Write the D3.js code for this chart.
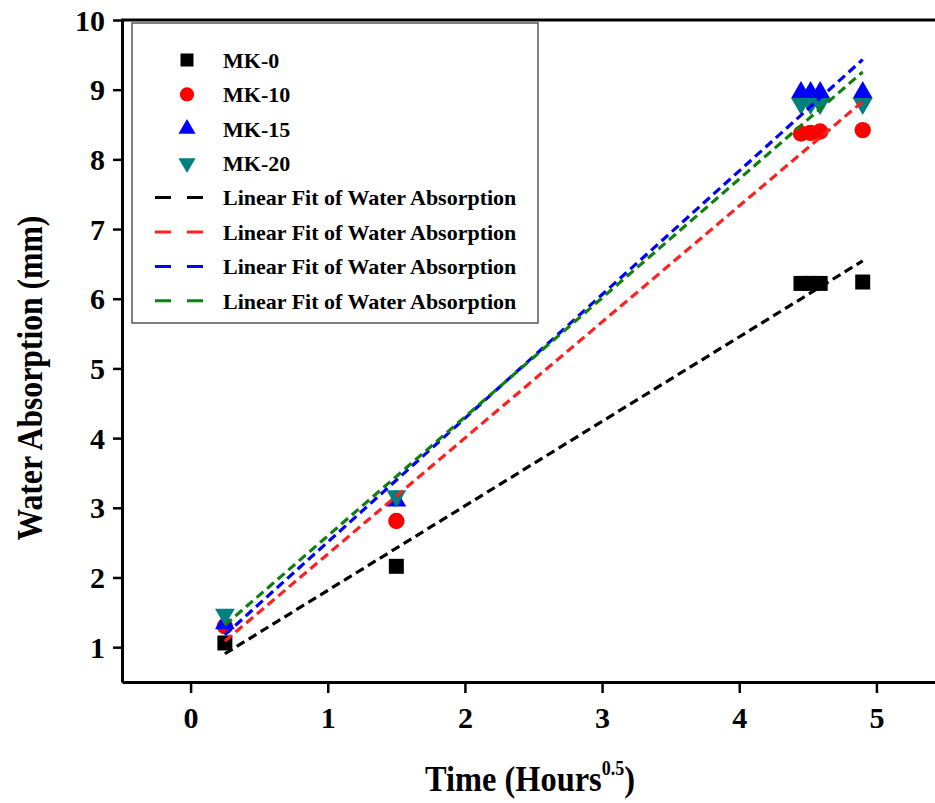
<!DOCTYPE html>
<html>
<head>
<meta charset="utf-8">
<script src="https://cdn.jsdelivr.net/npm/d3@7"></script>
<style>
  body { margin: 0; background: #fff; }
  text { font-family: "Liberation Serif", "Times New Roman", serif; font-weight: bold; }
</style>
</head>
<body>
<div class="chart"></div>
<script>
// data
const timeX = [0.25, 1.5, 4.45, 4.52, 4.59, 4.9];
const mk0  = [1.06, 2.16, 6.22, 6.22, 6.22, 6.24];
const mk10 = [1.30, 2.81, 8.37, 8.38, 8.40, 8.42];
const mk15 = [1.34, 3.10, 8.96, 8.96, 8.96, 8.96];
const mk20 = [1.47, 3.17, 8.80, 8.80, 8.80, 8.80];
const seriesNames = ["MK-0", "MK-10", "MK-15", "MK-20"];
const fitName = "Linear Fit of Water Absorption";
const xTicks = [0, 1, 2, 3, 4, 5];
const yTicks = [1, 2, 3, 4, 5, 6, 7, 8, 9, 10];

const W = 935, H = 803;
const svg = d3.select(".chart").append("svg")
  .attr("width", W)
  .attr("height", H);

const x = d3.scaleLinear().domain([-0.5, 5.5]).range([122, 945]);
const y = d3.scaleLinear().domain([0.5, 10]).range([682, 20]);

const series = [
  { name: seriesNames[0], vals: mk0,  color: "#000000", fit: "#000000", sym: d3.symbolSquare,   size: 225, rot: 0 },
  { name: seriesNames[1], vals: mk10, color: "#ff0000", fit: "#ff2020", sym: d3.symbolCircle,   size: 210, rot: 0 },
  { name: seriesNames[2], vals: mk15, color: "#0000ff", fit: "#0000ff", sym: d3.symbolTriangle, size: 170, rot: 0 },
  { name: seriesNames[3], vals: mk20, color: "#007f7f", fit: "#108010", sym: d3.symbolTriangle, size: 170, rot: 180 }
];

// simple least squares fit
function linFit(xs, ys) {
  const mx = d3.mean(xs), my = d3.mean(ys);
  let sxy = 0, sxx = 0;
  xs.forEach((v, i) => { sxy += (v - mx) * (ys[i] - my); sxx += (v - mx) * (v - mx); });
  const b = sxy / sxx;
  return { a: my - b * mx, b: b };
}

// axes
const xAxis = svg.append("g")
  .attr("transform", "translate(0,682)")
  .call(d3.axisBottom(x).tickValues(xTicks).tickFormat(d3.format("d"))
    .tickSize(11).tickSizeOuter(0).tickPadding(9));
const yAxis = svg.append("g")
  .attr("transform", "translate(122,0)")
  .call(d3.axisLeft(y).tickValues(yTicks).tickFormat(d3.format("d"))
    .tickSize(9).tickSizeOuter(0).tickPadding(8));

[xAxis, yAxis].forEach(g => {
  g.select(".domain").attr("stroke", "#000").attr("stroke-width", 3);
  g.selectAll(".tick line").attr("stroke", "#000").attr("stroke-width", 2.5);
  g.selectAll(".tick text").attr("fill", "#000").style("font-size", "30px")
    .style("font-family", "Liberation Serif").style("font-weight", "bold");
});
xAxis.selectAll(".tick text").attr("dy", "0.85em");
yAxis.selectAll(".tick text").attr("dy", "0.34em");

// frame top
svg.append("line").attr("x1", 121).attr("x2", 950).attr("y1", 20).attr("y2", 20)
  .attr("stroke", "#000").attr("stroke-width", 3);

// scatter points
series.forEach(s => {
  svg.append("g").selectAll("path")
    .data(s.vals.map((v, i) => [timeX[i], v]))
    .join("path")
    .attr("d", d3.symbol().type(s.sym).size(s.size))
    .attr("transform", d => `translate(${x(d[0])},${y(d[1])}) rotate(${s.rot})`)
    .attr("fill", s.color);
});

// fit lines
series.forEach(s => {
  const f = linFit(timeX, s.vals);
  const x0 = d3.min(timeX), x1 = d3.max(timeX);
  svg.append("line")
    .attr("x1", x(x0)).attr("y1", y(f.a + f.b * x0))
    .attr("x2", x(x1)).attr("y2", y(f.a + f.b * x1))
    .attr("stroke", s.fit)
    .attr("stroke-width", 3.2)
    .attr("stroke-dasharray", "9,5");
});

// legend
const leg = svg.append("g");
leg.append("rect")
  .attr("x", 132).attr("y", 23).attr("width", 406).attr("height", 300)
  .attr("fill", "#fff").attr("stroke", "#555").attr("stroke-width", 1.5);
const rowY = d3.range(8).map(i => 60 + i * 34.4);
series.forEach((s, i) => {
  leg.append("path")
    .attr("d", d3.symbol().type(s.sym).size(s.size * 0.75))
    .attr("transform", `translate(187,${rowY[i]}) rotate(${s.rot})`)
    .attr("fill", s.color);
  leg.append("text").attr("x", 223).attr("y", rowY[i]).attr("dy", "0.35em")
    .style("font-size", "22px").text(s.name);
});
series.forEach((s, i) => {
  const ry = rowY[i + 4];
  leg.append("line").attr("x1", 155).attr("x2", 203).attr("y1", ry).attr("y2", ry)
    .attr("stroke", s.fit).attr("stroke-width", 3).attr("stroke-dasharray", "16,16");
  leg.append("text").attr("x", 223).attr("y", ry).attr("dy", "0.35em")
    .style("font-size", "22px").text(fitName);
});

// axis titles
svg.append("text")
  .attr("transform", "translate(42,378) rotate(-90) scale(0.88,1)")
  .attr("text-anchor", "middle")
  .style("font-size", "36px")
  .text("Water Absorption (mm)");

const xt = svg.append("text")
  .attr("transform", "translate(530,791) scale(0.9,1)")
  .attr("text-anchor", "middle")
  .style("font-size", "36px");
xt.append("tspan").text("Time (Hours");
xt.append("tspan").attr("dy", -16).style("font-size", "20px").text("0.5");
xt.append("tspan").attr("dy", 16).text(")");
</script>
</body>
</html>
